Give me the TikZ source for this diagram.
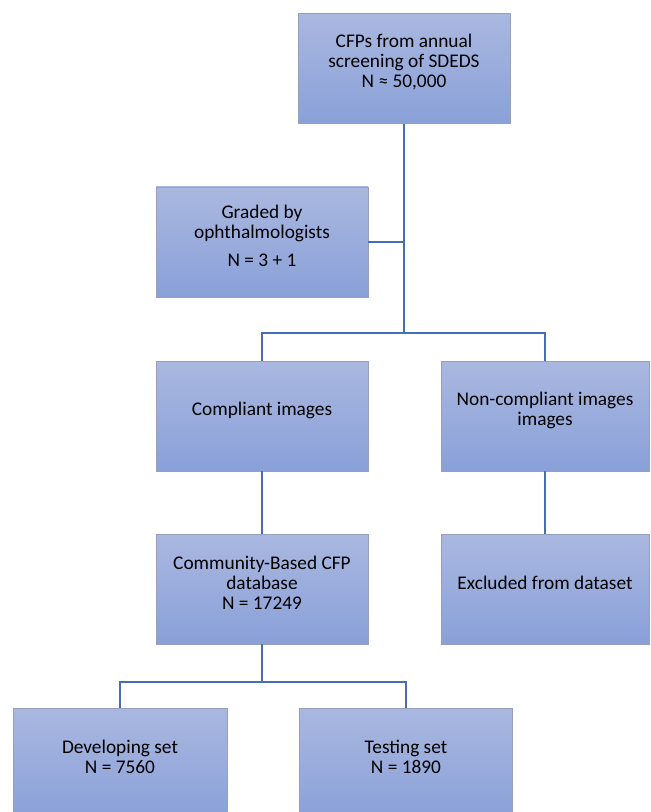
\documentclass[tikz,border=0pt]{standalone}
\usepackage{fontspec}
\setmainfont{Carlito}
\definecolor{boxtop}{RGB}{170,184,224}
\definecolor{boxbot}{RGB}{137,160,216}
\definecolor{boxline}{RGB}{150,160,190}
\definecolor{conn}{RGB}{70,110,180}
\begin{document}
\begin{tikzpicture}[x=0.75pt,y=-0.75pt,
  box/.style={rectangle,draw=boxline,line width=0.6pt,top color=boxtop,bottom color=boxbot,
    minimum width=159pt,minimum height=82.5pt,inner sep=0pt},
  narrowbox/.style={box,minimum width=156pt},
  txt/.style={align=center,font=\fontsize{14.5}{15}\selectfont,text=black,inner sep=0pt},
  conline/.style={draw=conn,line width=1.1pt}]
\clip (0,0) rectangle (650,812);
\fill[white] (0,0) rectangle (650,812);
\node[box] (top) at (404,68.5) {};
\node[txt] (topt) at ([yshift=4.5pt]top.center) {CFPs from annual\\screening of SDEDS\\N ≈ 50,000};
\node[box] (graded) at (262,242) {};
\node[txt] (gradedt) at ([yshift=4.5pt]graded.center) {Graded by\\ophthalmologists\\[6pt]N = 3 + 1};
\node[box] (compliant) at (262,416) {};
\node[txt] (compliantt) at ([yshift=4.5pt]compliant.center) {Compliant images};
\node[narrowbox] (noncomp) at (545,416) {};
\node[txt] (noncompt) at ([yshift=4.5pt]noncomp.center) {Non-compliant images\\images};
\node[box] (community) at (262,589) {};
\node[txt] (communityt) at ([yshift=4.5pt]community.center) {Community-Based CFP\\database\\N = 17249};
\node[narrowbox] (excluded) at (545,589) {};
\node[txt] (excludedt) at ([yshift=4.5pt]excluded.center) {Excluded from dataset};
\node[box,minimum width=160.5pt,minimum height=83.25pt] (developing) at (120,763.5) {};
\node[txt] (developingt) at ([yshift=5pt]developing.center) {Developing set\\N = 7560};
\node[box,minimum width=159.75pt,minimum height=83.25pt] (testing) at (406,763.5) {};
\node[txt] (testingt) at ([yshift=5pt]testing.center) {Testing set\\N = 1890};
\coordinate (j1) at (404,333);
\coordinate (j2) at (262,682);
\draw[conline] (top.south) -- (j1);
\draw[conline] (graded.east) -- (graded.east -| top.south);
\draw[conline] (compliant.north) |- (j1) -| (noncomp.north);
\draw[conline] (compliant.south) -- (community.north);
\draw[conline] (noncomp.south) -- (excluded.north);
\draw[conline] (community.south) -- (j2);
\draw[conline] (developing.north) |- (j2) -| (testing.north);
\end{tikzpicture}
\end{document}
